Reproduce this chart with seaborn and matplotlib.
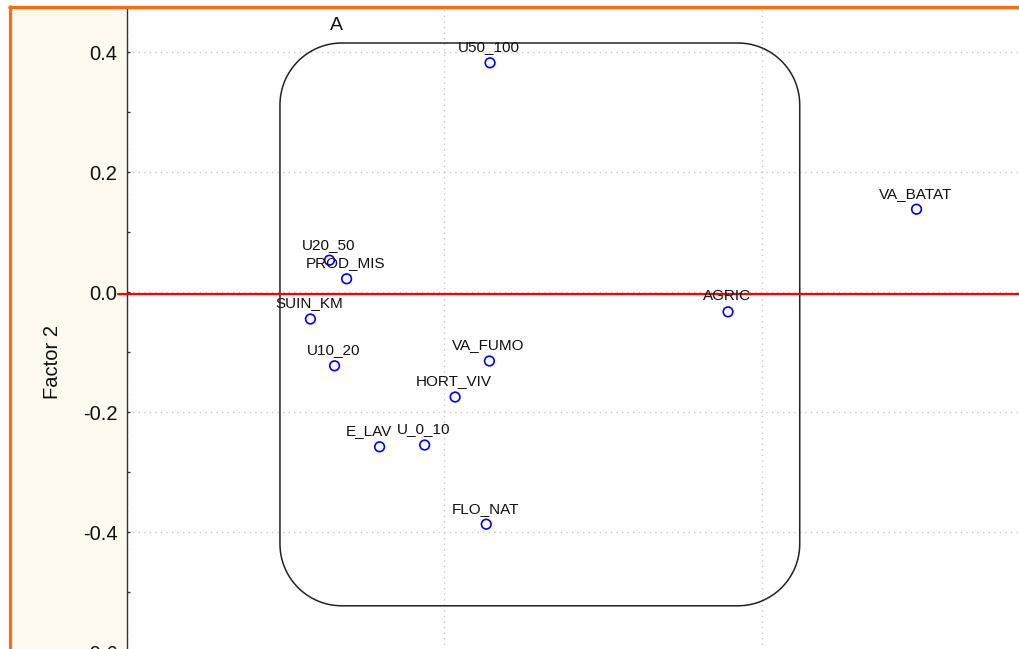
import numpy as np
import pandas as pd
import matplotlib
matplotlib.use("Agg")
import matplotlib.pyplot as plt
from matplotlib.patches import Rectangle, Polygon
from matplotlib.lines import Line2D
from matplotlib.ticker import MultipleLocator
import seaborn as sns

# ---- data ----
labels = ["U50_100", "VA_BATAT", "U20_50", "PROD_MIS", "SUIN_KM", "U10_20",
          "VA_FUMO", "HORT_VIV", "E_LAV", "U_0_10", "FLO_NAT", "AGRIC"]
factor1 = [0.072, 0.744, -0.181, -0.154, -0.211, -0.173,
           0.071, 0.017, -0.102, -0.031, 0.066, 0.447]
factor2 = [0.382, 0.138, 0.053, 0.022, -0.045, -0.123,
           -0.115, -0.175, -0.258, -0.255, -0.387, -0.033]
y_ticks = [-0.6, -0.4, -0.2, 0.0, 0.2, 0.4]
x_ticks = [-0.5, 0.0, 0.5, 1.0]
ref_line_y = -0.0035
group_name = "A"
group_x = (-0.259, 0.560)
group_y = (-0.523, 0.415)

df = pd.DataFrame({"Factor 1": factor1, "Factor 2": factor2, "label": labels})

sns.set_theme(style="white")
plt.rcParams["font.family"] = ["Liberation Sans", "DejaVu Sans"]

W, H = 1019, 649
fig = plt.figure(figsize=(W / 100, H / 100), dpi=100, facecolor="white")

# axes geometry in pixels (extends beyond right/bottom edges, as in the crop)
ax_left, ax_top, ax_right, ax_bottom = 127, 9, 1079, 712
ax = fig.add_axes([ax_left / W, (H - ax_bottom) / H,
                   (ax_right - ax_left) / W, (ax_bottom - ax_top) / H])
ax.set_facecolor("white")
ax.set_xlim(-0.5, 1.0)
ax.set_ylim(-0.7, 0.4 + 43 / 600)

# cream margin on the left
fig.add_artist(Rectangle((11 / W, 0), (ax_left - 11) / W, (H - 8) / H,
                         transform=fig.transFigure, facecolor="#FEFAF0",
                         edgecolor="none", zorder=-5))

# grid
ax.set_yticks(y_ticks)
ax.set_xticks(x_ticks)
ax.yaxis.set_minor_locator(MultipleLocator(0.1))
ax.grid(True, which="major", color="#C8C8C8", linestyle=(0, (1, 3)), linewidth=1)
ax.set_axisbelow(True)

# group outline: rounded rectangle with circular corners (radius ~60 px)
px_per_x, px_per_y = 636, 600
rx, ry = 62 / px_per_x, 62 / px_per_y
x0, x1 = group_x
y0, y1 = group_y
t = np.linspace(0, np.pi / 2, 30)
corners = [
    (x1 - rx, y1 - ry, 0),            # top-right
    (x0 + rx, y1 - ry, np.pi / 2),    # top-left
    (x0 + rx, y0 + ry, np.pi),        # bottom-left
    (x1 - rx, y0 + ry, 3 * np.pi / 2) # bottom-right
]
verts = []
for cx, cy, a0 in corners:
    ang = a0 + t
    verts.extend(zip(cx + rx * np.cos(ang), cy + ry * np.sin(ang)))
ax.add_patch(Polygon(verts, closed=True, facecolor="none", edgecolor="#222222",
                     linewidth=1.1, zorder=2))
ax.text(-0.170, 0.445, group_name, fontsize=14, ha="center", va="center", color="#111111")

# reference line
ax.axhline(ref_line_y, xmin=-0.0095, xmax=1, color="#FF0000", linewidth=1.6,
           clip_on=False, zorder=3)

# points
sns.scatterplot(data=df, x="Factor 1", y="Factor 2", ax=ax, marker="o", s=48,
                facecolors="none", edgecolor="#0000FF", linewidth=1.2, zorder=4)

label_dx = {"E_LAV": -10}
for lab, xv, yv in zip(labels, factor1, factor2):
    ax.annotate(lab, (xv, yv), xytext=(-1 + label_dx.get(lab, 0), 11.5),
                textcoords="offset pixels", ha="center", va="baseline",
                fontsize=11, color="#111111", zorder=5)

# axes styling
for side in ["top", "right", "bottom"]:
    ax.spines[side].set_visible(False)
ax.spines["left"].set_color("#333333")
ax.spines["left"].set_linewidth(1.0)
ax.tick_params(axis="y", which="both", direction="in", left=True, color="#333333",
               width=1, labelsize=14.5, labelcolor="#111111", pad=7)
ax.tick_params(axis="y", which="major", length=2.5)
ax.tick_params(axis="y", which="minor", length=2.0)
ax.tick_params(axis="x", which="both", bottom=False, labelbottom=False)
ax.set_yticklabels([f"{t:.1f}" for t in y_ticks])
ax.set_xlabel("")
ax.set_ylabel("Factor 2", fontsize=14.5, color="#111111")
ax.yaxis.set_label_coords((53 - ax_left) / (ax_right - ax_left),
                          (ax_bottom - 362) / (ax_bottom - ax_top))
ax.yaxis.label.set_va("center")
ax.yaxis.label.set_ha("center")

# orange frame lines (top and left)
orange = "#FF6A0A"
fig.add_artist(Line2D([8 / W, 1], [(H - 6.5) / H] * 2, transform=fig.transFigure,
                      color=orange, linewidth=2.3, zorder=20, solid_capstyle="butt"))
fig.add_artist(Line2D([9.5 / W] * 2, [0, (H - 5) / H], transform=fig.transFigure,
                      color=orange, linewidth=2.3, zorder=20, solid_capstyle="butt"))

fig.savefig("out.png", dpi=100)
